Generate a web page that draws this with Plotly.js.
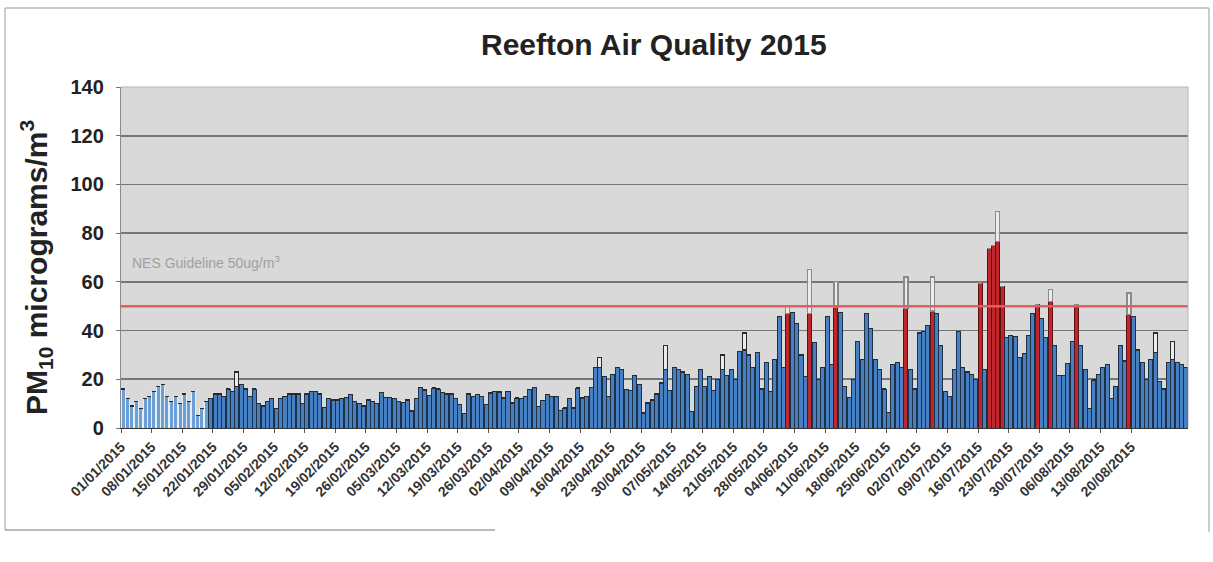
<!DOCTYPE html>
<html>
<head>
<meta charset="utf-8">
<script src="https://cdn.plot.ly/plotly-3.0.1.min.js"></script>
<style>html,body{margin:0;padding:0;background:#fff;}#chart{width:1213px;height:562px;}</style>
</head>
<body>
<div id="chart"></div>
<script>
// ---- data ----
const startDate = '2015-01-01';   // first daily category
const dayCount = 244;             // 01/01/2015 .. 01/09/2015

// daily PM10 (µg/m³), in date order
const pm10Jan = [16, 12, 9, 11, 8, 12, 13, 15, 17, 18, 13, 11, 13, 10, 14, 11, 15, 5, 8, 11,
                 12, 14, 14, 13, 16, 15, 17, 18, 16, 13, 16];
const pm10Feb = [10, 9, 11, 12, 8, 12, 13, 14, 14, 14, 10, 14, 15, 15, 14, 8.5, 12, 11.5, 11.5,
                 12, 12.6, 13.7, 11, 10, 9, 11.5, 11, 10];
const pm10Mar = [14.7, 12.6, 12.6, 12, 11, 10.5, 11.5, 7, 12, 16.7, 15.6, 13.3, 16.4, 16, 14.7,
                 14, 14, 12, 9.6, 6, 14, 13, 13.7, 13, 9.6, 14.4, 15, 14.8, 12.3, 15, 10.3];
const pm10Apr = [12.3, 12, 13, 15.8, 16.7, 8.9, 11.2, 13.7, 13, 13, 7.1, 8.2, 12, 8.2, 16.4, 12.3,
                 13, 16.7, 25, 25, 21.2, 13, 22, 25, 24, 15.8, 15.3, 21.6, 17.8, 6.2];
const pm10May = [10.3, 11.5, 14, 18.5, 24, 15.5, 25, 24, 23, 22, 6.7, 17, 24, 17, 21, 15.4, 20, 24,
                 21.5, 24, 20, 31.5, 32, 30, 25, 31, 16, 27, 15, 28, 45.7];
const pm10Jun = [25, 47, 47.5, 43, 30, 21, 47, 35, 20, 25, 45.7, 26, 49.6, 47.5, 17, 12.5, 20, 35.5,
                 28, 47, 41, 28, 24, 16, 6.5, 26, 27, 25, 49, 24];
const pm10Jul = [16, 39, 39.5, 42, 48, 47, 34, 15, 13, 24, 39.5, 25, 23, 22, 20, 59.5, 24, 73.7, 75,
                 76.5, 58, 37, 38, 37.5, 29, 30.5, 38, 47, 50.6, 45, 37];
const pm10Aug = [52, 34, 21.7, 21.7, 26.5, 35.5, 50.6, 34, 24, 8, 19.7, 22, 25, 26, 12, 17, 34, 27.5,
                 46.5, 45.8, 32, 27, 20, 28, 31, 19, 16, 27, 28, 27, 26];
const pm10Sep = [25];

// days (index from 01/01) that carry an extra outlined box, and the top of that box
const boxDay = [26, 109, 124, 137, 142, 152, 157, 163, 179, 185, 200, 212, 230, 236, 240];
const boxTop = [23, 28.8, 34, 30, 39, 50, 65, 60, 62, 62, 89, 57, 55.4, 39, 35.5];

const guideline = 50;
const guideText = 'NES Guideline 50ug/m<sup>3</sup>';
const yTitle = '<b>PM<sub>10</sub> micrograms/m<sup>3</sup></b>';

const tickLabels = ['01/01/2015','08/01/2015','15/01/2015','22/01/2015','29/01/2015','05/02/2015',
  '12/02/2015','19/02/2015','26/02/2015','05/03/2015','12/03/2015','19/03/2015','26/03/2015',
  '02/04/2015','09/04/2015','16/04/2015','23/04/2015','30/04/2015','07/05/2015','14/05/2015',
  '21/05/2015','28/05/2015','04/06/2015','11/06/2015','18/06/2015','25/06/2015','02/07/2015',
  '09/07/2015','16/07/2015','23/07/2015','30/07/2015','06/08/2015','13/08/2015','20/08/2015'];

// ---- build ----
const pm10 = [].concat(pm10Jan, pm10Feb, pm10Mar, pm10Apr, pm10May, pm10Jun, pm10Jul, pm10Aug, pm10Sep);
const n = Math.min(dayCount, pm10.length);
const t0 = Date.parse(startDate + 'T12:00:00Z');
const pad = v => String(v).padStart(2, '0');
const dates = [];
for (let i = 0; i < n; i++) {
  const d = new Date(t0 + i * 86400000);
  dates.push(d.getUTCFullYear() + '-' + pad(d.getUTCMonth() + 1) + '-' + pad(d.getUTCDate()) + ' 12:00');
}
const mainY = pm10.slice(0, n);
const extraY = new Array(n).fill(0);
const total = mainY.slice();
boxDay.forEach((d, k) => { if (d < n) { extraY[d] = boxTop[k] - mainY[d]; total[d] = boxTop[k]; } });

const fillCol = [], lineCol = [];
for (let i = 0; i < n; i++) {
  if (total[i] >= guideline) { fillCol.push('#c0272d'); lineCol.push('#5a1214'); }
  else if (i < 20) { fillCol.push('#6b9fd6'); lineCol.push('#e8eef6'); }
  else { fillCol.push('#4680c2'); lineCol.push('#1c3047'); }
}
const extraLine = extraY.map((v, i) => total[i] >= guideline ? '#8a8a8a' : '#2a2a2a');

const tickVals = tickLabels.map(s => { const p = s.split('/'); return p[2] + '-' + p[1] + '-' + p[0]; });

const L = 121, R = 1188, T = 87, B = 428;
const px = x => (x - L) / (R - L);
const py = y => (B - y) / (B - T);

const traces = [
  { type: 'bar', x: dates, y: mainY, width: 86400000 * 0.92,
    marker: { color: fillCol, line: { color: lineCol, width: 1 } }, hoverinfo: 'x+y' },
  { type: 'bar', x: dates, y: extraY, width: 86400000 * 0.92,
    marker: { color: 'rgba(236,236,236,0.9)', line: { color: extraLine, width: 1.2 } }, hoverinfo: 'skip' }
];

const layout = {
  width: 1213, height: 562,
  margin: { l: L, r: 1213 - R, t: T, b: 562 - B },
  paper_bgcolor: '#ffffff', plot_bgcolor: '#d9d9d9',
  barmode: 'stack', bargap: 0, showlegend: false,
  font: { family: 'Liberation Sans, Arial, sans-serif', color: '#222' },
  title: { text: '<b>Reefton Air Quality 2015</b>', x: 0.539, xanchor: 'center', y: 0.92, yanchor: 'middle',
           font: { size: 30, color: '#222' } },
  xaxis: {
    type: 'date', range: ['2015-01-01', '2015-09-02'],
    tickmode: 'array', tickvals: tickVals, ticktext: tickLabels,
    tickangle: -45, tickfont: { size: 14, color: '#333', weight: 'bold' },
    ticks: 'outside', ticklen: 4, tickcolor: '#555',
    showgrid: false, showline: true, linecolor: '#333', linewidth: 1.2, mirror: false,
    zeroline: false, fixedrange: true
  },
  yaxis: {
    range: [0, 140], dtick: 20, tick0: 0,
    tickfont: { size: 20, color: '#222', weight: 'bold' },
    ticks: 'outside', ticklen: 4, tickcolor: '#777', ticklabelstandoff: 8,
    showgrid: true, gridcolor: '#767676', gridwidth: 1.6,
    showline: true, linecolor: '#8a8a8a', linewidth: 1.2,
    zeroline: false, fixedrange: true
  },
  shapes: [
    { type: 'line', xref: 'paper', yref: 'y', x0: 0, x1: 1, y0: guideline, y1: guideline,
      line: { color: '#e0605f', width: 2.5 }, layer: 'above' },
    { type: 'line', xref: 'paper', yref: 'paper', x0: 0, x1: 1, y0: 1, y1: 1, line: { color: '#b5b5b5', width: 1 } },
    { type: 'line', xref: 'paper', yref: 'paper', x0: 1, x1: 1, y0: 0, y1: 1, line: { color: '#b5b5b5', width: 1 } },
    // outer chart frame
    { type: 'line', xref: 'paper', yref: 'paper', x0: px(5), x1: px(1209), y0: py(8), y1: py(8), line: { color: '#9a9a9a', width: 1 } },
    { type: 'line', xref: 'paper', yref: 'paper', x0: px(5), x1: px(5), y0: py(8), y1: py(530), line: { color: '#9a9a9a', width: 1 } },
    { type: 'line', xref: 'paper', yref: 'paper', x0: px(1209), x1: px(1209), y0: py(8), y1: py(532), line: { color: '#9a9a9a', width: 1 } },
    { type: 'line', xref: 'paper', yref: 'paper', x0: px(5), x1: px(495), y0: py(530), y1: py(530), line: { color: '#777', width: 1.2 } }
  ],
  annotations: [
    { xref: 'paper', yref: 'y', x: px(130), y: 68, xanchor: 'left', yanchor: 'middle', showarrow: false,
      text: guideText, font: { size: 14, color: '#a0a0a0' } },
    { xref: 'paper', yref: 'paper', x: px(36), y: py(268), xanchor: 'center', yanchor: 'middle', showarrow: false,
      textangle: -90, text: yTitle, font: { size: 30, color: '#222' } }
  ]
};

Plotly.newPlot('chart', traces, layout, { displayModeBar: false, staticPlot: true });
</script>
</body>
</html>
